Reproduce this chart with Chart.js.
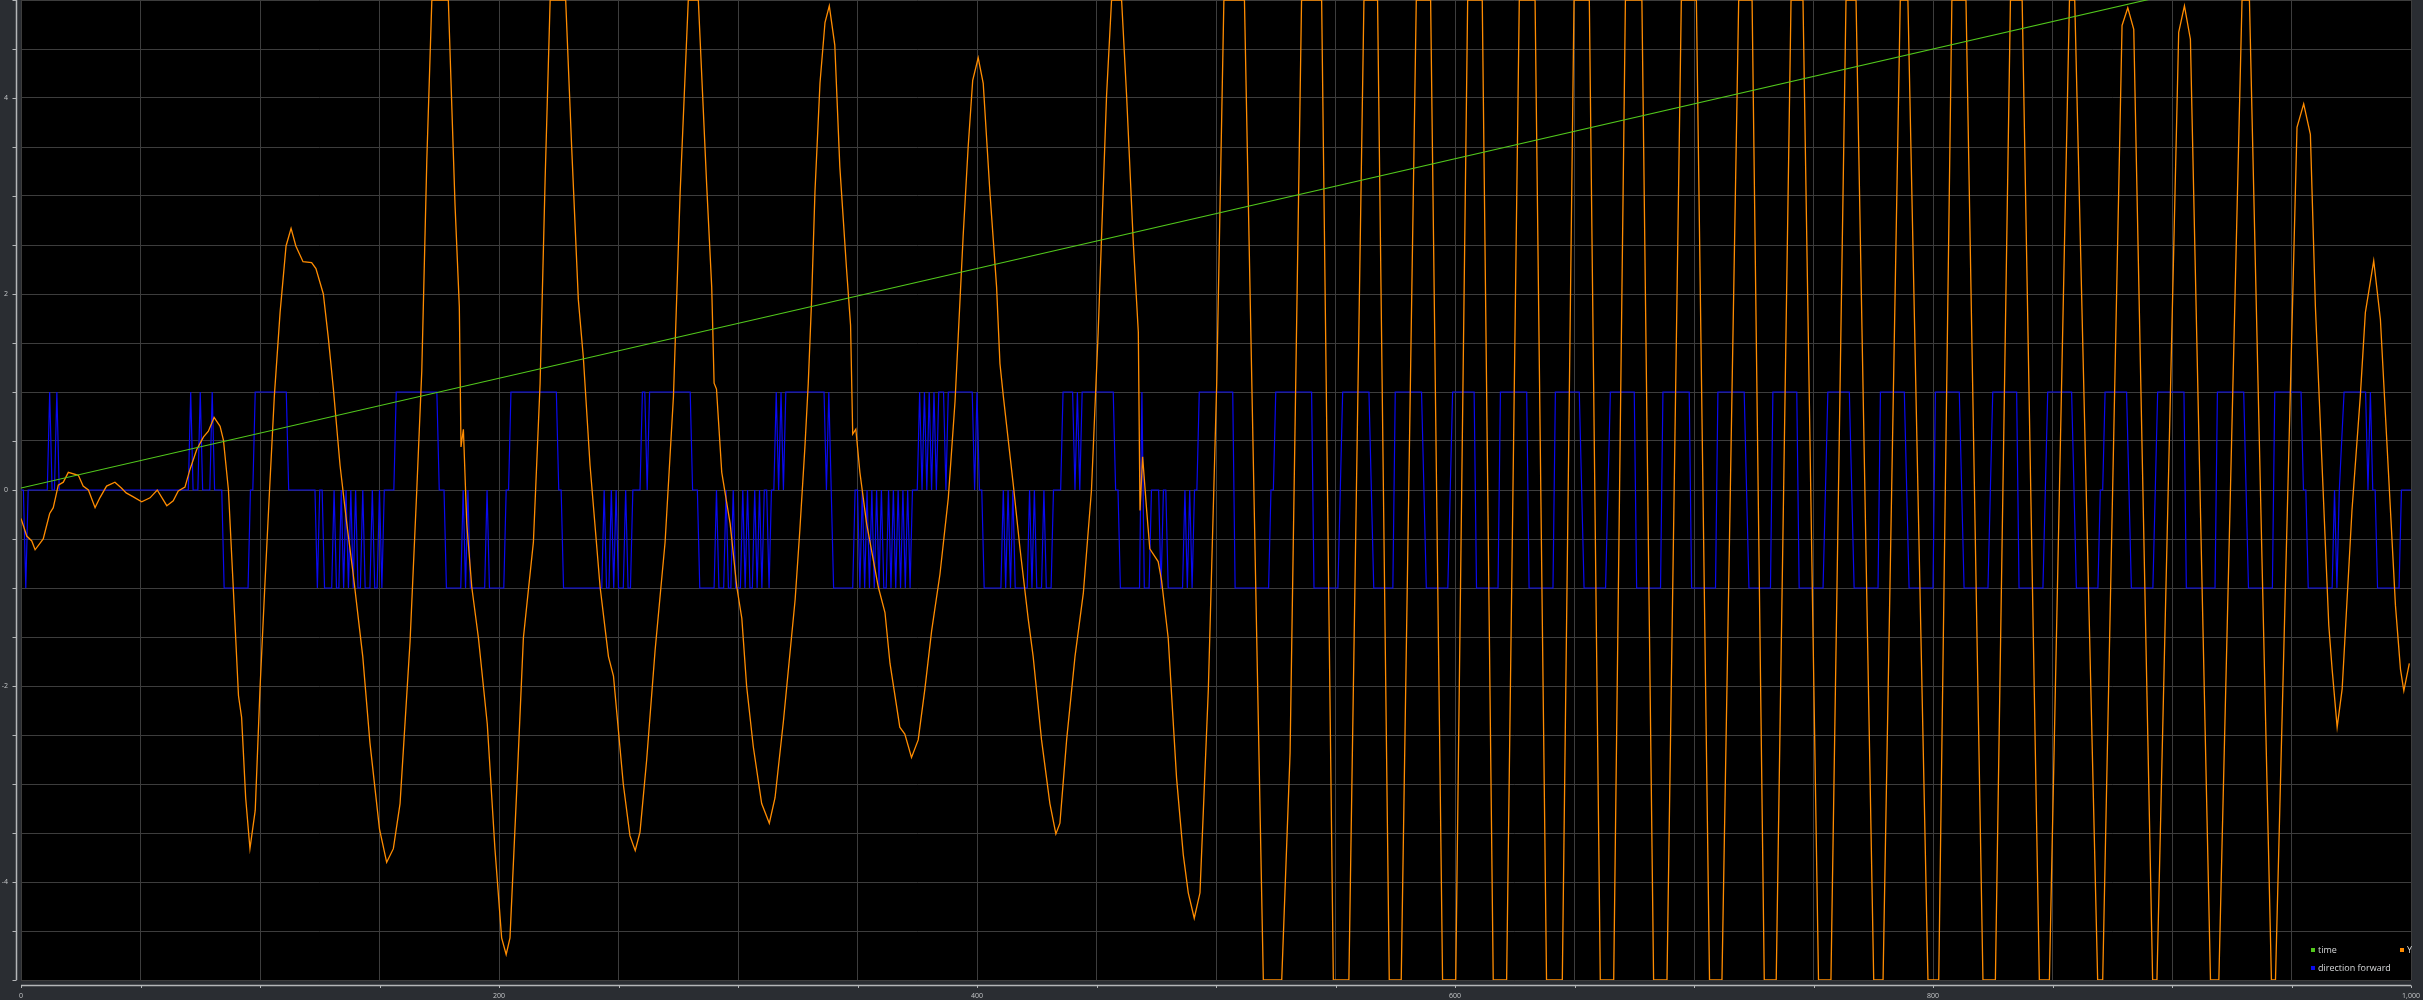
<!DOCTYPE html>
<html><head><meta charset="utf-8">
<style>
html,body{margin:0;padding:0;background:#2a2d32;overflow:hidden}
canvas{display:block}
</style>
<script src="https://cdn.jsdelivr.net/npm/chart.js@4/dist/chart.umd.min.js"></script>
</head><body>
<canvas id="c" width="2423" height="1000"></canvas>
<script>
// ---- data ----
const seriesLabels = ['time', 'Y', 'direction forward'];
const seriesColors = ['#52c81c', '#ff8c00', '#0a0af0'];
const xTickLabels = [0, 200, 400, 600, 800, 1000];
const yTickLabels = [-4, -2, 0, 2, 4];

const timePoints = [[0, 0.02], [1000, 5.62]];

const yPoints = [
[0,-0.29],[2.4,-0.47],[4.5,-0.52],[5.9,-0.61],[9.3,-0.5],[12,-0.24],[13.5,-0.18],[15.6,0.05],[17.7,0.08],[19.8,0.18],
[24,0.15],[26,0.04],[28.2,0.0],[31,-0.18],[33,-0.08],[35.8,0.04],[39.3,0.08],[42,0.02],[44,-0.03],[47,-0.07],
[50.5,-0.12],[54,-0.08],[57,0.0],[61,-0.16],[63.7,-0.11],[65.8,-0.01],[68.6,0.03],[70.7,0.21],[73.5,0.41],[76.3,0.54],
[78.4,0.6],[80.8,0.74],[83.3,0.65],[84.7,0.51],[86.8,0.0],[88.8,-0.99],[91,-2.1],[92.3,-2.32],[94,-3.14],[95.8,-3.66],
[98,-3.27],[100,-2.03],[102,-0.99],[104,0],[106,0.96],[108.4,1.81],[110.9,2.49],[113,2.67],[115,2.49],[118,2.33],
[121.6,2.32],[123.4,2.26],[126.5,2.0],[128.6,1.55],[130.7,1.03],[133.5,0.25],[136.3,-0.34],[139,-0.86],[143,-1.7],[146,-2.58],
[150,-3.46],[153,-3.8],[155.8,-3.66],[158.6,-3.2],[162.8,-1.54],[165.6,0],[167.7,1.22],[169.8,3.37],[171.9,5],[178.8,5],
[181.6,2.91],[183.4,1.87],[184.1,0.44],[185.1,0.62],[186.5,-0.34],[188.6,-0.99],[191.4,-1.51],[195.1,-2.39],[198.3,-3.66],[201.1,-4.57],
[203,-4.74],[204.6,-4.57],[207.4,-3.07],[210.2,-1.51],[214.4,-0.53],[217.2,1.09],[219.3,3.17],[221.4,5],[227.9,5],[230.4,3.5],
[233.2,1.94],[235.3,1.35],[238.1,0.25],[242.3,-0.99],[245.8,-1.7],[247.9,-1.9],[252,-3.0],[254.8,-3.53],[257,-3.68],[259,-3.49],
[261.8,-2.75],[265.3,-1.64],[269.5,-0.53],[273,0.96],[275.8,3.04],[279.2,5],[283.4,5],[286.9,3.11],[289,2.07],[290,1.09],
[291,1.03],[293.2,0.18],[296.7,-0.34],[299.5,-0.99],[301.6,-1.31],[303.6,-2.0],[306.4,-2.62],[309.9,-3.2],[313.1,-3.4],[315.5,-3.14],
[319,-2.36],[323.9,-1.12],[325.9,-0.4],[328,0.44],[329.4,1.09],[330.8,1.94],[332.2,3.04],[334.3,4.15],[336.4,4.77],[338.2,4.94],
[340.5,4.54],[342.6,3.3],[345.4,2.26],[347.1,1.68],[348,0.57],[349.3,0.62],[351,0.18],[353.8,-0.34],[358.7,-0.99],[361.5,-1.25],
[363.6,-1.77],[367.7,-2.42],[369.8,-2.49],[372.6,-2.73],[375.4,-2.55],[378.2,-2.03],[381,-1.44],[384.5,-0.86],[388,-0.08],[390.8,0.9],
[394.2,2.59],[396.3,3.5],[398.2,4.18],[400.5,4.41],[402.6,4.15],[405.4,3.04],[408.2,2.07],[409.6,1.29],[411,0.96],[415.2,0.05],
[418,-0.6],[421.4,-1.31],[423.5,-1.7],[427,-2.55],[430.5,-3.2],[433,-3.51],[434.7,-3.4],[437.5,-2.55],[441,-1.7],[444.5,-1.05],
[447.9,0],[450.7,1.61],[454.2,4.02],[456.3,5],[460.5,5],[462.6,4.02],[465.4,2.52],[467.5,1.61],[468.2,-0.21],[469.3,0.34],
[471,-0.21],[472.3,-0.6],[475.8,-0.73],[477.2,-0.92],[480,-1.51],[483.5,-2.94],[486.3,-3.72],[488.4,-4.11],[490.9,-4.37],[493.3,-4.11],
[496.8,-2.03],[500.3,1.09],[503.3,5],[511.9,5],[519.8,-5],[527.5,-5],[531,-2.68],[535.8,5],[544.2,5],[549.1,-5],
[555.6,-5],[561.9,5],[567.6,5],[572.5,-5],[577.5,-5],[583.8,5],[589.8,5],[594.8,-5],[600.3,-5],[605.3,5],
[611.4,5],[616,-5],[621.6,-5],[626.9,5],[633.5,5],[638.3,-5],[644.9,-5],[649.8,5],[656.2,5],[660.8,-5],
[666.4,-5],[671.3,5],[678.2,5],[683.1,-5],[688.7,-5],[694.7,5],[701,5],[706.5,-5],[711.7,-5],[718.7,5],
[724.3,5],[729.4,-5],[734.4,-5],[740.6,5],[745.6,5],[752.1,-5],[757.3,-5],[763.6,5],[767.8,5],[775.2,-5],
[779.1,-5],[786.3,5],[789.5,5],[797.9,-5],[802.4,-5],[807.9,5],[813.8,5],[820.9,-5],[826.1,-5],[832.4,5],
[837.3,5],[844.5,-5],[848.7,-5],[857.1,5],[859.3,5],[868.9,-5],[871,-5],[879.1,4.74],[881.5,4.92],[884,4.7],
[891.9,-5],[893.7,-5],[902.8,4.67],[905.2,4.94],[907.7,4.6],[916.1,-5],[919.6,-5],[929.3,5],[932.4,5],[941.6,-5],
[943.3,-5],[952.3,3.7],[955.1,3.94],[957.9,3.63],[960,1.87],[965.6,-1.38],[967,-1.83],[969.1,-2.42],[971.2,-2.03],[975.3,-0.21],
[978.8,0.96],[980.9,1.81],[984.4,2.34],[987.2,1.74],[990.7,0.12],[993.5,-1.18],[995.6,-1.83],[997,-2.05],[999.3,-1.77]
];

const dirPoints = [
[0,0],[1,0],[2,-1],[3,0],[11,0],[12,1],[13,0],[14,0],[15,1],[16,0],[70,0],[71,1],[72,0],[74,0],[75,1],[76,0],[79,0],[80,1],[81,0],[84,0],
[85,-1],[95,-1],[96,0],[97,0],[98,1],[111,1],[112,0],[123,0],[124,-1],[125,0],[126,0],[127,-1],[130,-1],[131,0],[132,-1],[133,-1],[134,0],[135,-1],[136,0],[137,-1],
[138,0],[139,-1],[140,0],[141,-1],[142,-1],[143,0],[144,-1],[146,-1],[147,0],[148,-1],[149,-1],[150,0],[151,-1],[152,0],[156,0],[157,1],[174,1],[175,0],[177,0],[178,-1],
[184,-1],[185,0],[186,-1],[187,0],[188,-1],[194,-1],[195,0],[196,-1],[202,-1],[203,0],[204,0],[205,1],[224,1],[225,0],[226,0],[227,-1],[243,-1],[244,0],[245,-1],[246,-1],
[247,0],[248,-1],[249,0],[250,-1],[252,-1],[253,0],[254,-1],[255,-1],[256,0],[259,0],[260,1],[261,1],[262,0],[263,1],[280,1],[281,0],[283,0],[284,-1],[290,-1],[291,0],
[292,-1],[294,-1],[295,0],[296,-1],[297,-1],[298,0],[299,-1],[301,-1],[302,0],[303,-1],[304,0],[305,-1],[306,-1],[307,0],[308,-1],[309,0],[310,-1],[311,0],[312,0],[313,-1],
[314,0],[315,0],[316,1],[317,0],[318,1],[319,0],[320,1],[336,1],[337,0],[338,1],[339,0],[340,-1],[348,-1],[349,0],[350,0],[351,-1],[352,0],[353,-1],[354,0],[355,-1],
[356,0],[357,-1],[358,0],[359,-1],[360,0],[361,-1],[362,-1],[363,0],[364,-1],[365,0],[366,-1],[367,0],[368,-1],[369,0],[370,-1],[371,0],[372,-1],[373,0],[375,0],[376,1],
[377,0],[378,1],[379,0],[380,1],[381,0],[382,1],[383,0],[384,1],[386,1],[387,0],[388,1],[398,1],[399,0],[400,1],[401,0],[402,0],[403,-1],[410,-1],[411,0],[412,-1],
[413,0],[414,-1],[415,0],[416,-1],[421,-1],[422,0],[423,-1],[424,0],[425,-1],[427,-1],[428,0],[429,-1],[431,-1],[432,0],[435,0],[436,1],[440,1],[441,0],[442,1],[443,0],
[444,1],[457,1],[458,0],[459,0],[460,-1],[468,-1],[469,1],[470,-1],[472,-1],[473,0],[476,0],[477,-1],[478,0],[479,0],[480,-1],[486,-1],[487,0],[488,-1],[489,0],[490,-1],
[491,0],[492,0],[493,1],[507,1],[508,-1],[522,-1],[523,0],[524,0],[525,1],[540,1],[541,-1],[551,-1],[553,1],[564,1],[566,-1],[574,-1],[575,1],[586,1],[588,-1],[597,-1],
[599,1],[608,1],[609,-1],[618,-1],[619,1],[630,1],[631,-1],[641,-1],[642,1],[652,1],[654,-1],[663,-1],[665,1],[675,1],[676,-1],[686,-1],[687,1],[698,1],[699,-1],[709,-1],
[710,1],[721,1],[723,-1],[732,-1],[733,1],[743,1],[744,-1],[754,-1],[756,1],[765,1],[767,-1],[777,-1],[778,1],[788,1],[790,-1],[800,-1],[801,1],[811,1],[813,-1],[823,-1],
[825,1],[835,1],[836,-1],[846,-1],[848,1],[858,1],[860,-1],[869,-1],[870,0],[871,0],[872,1],[881,1],[883,-1],[892,-1],[894,1],[905,1],[906,-1],[918,-1],[919,1],[930,1],
[932,-1],[942,-1],[943,1],[954,1],[955,0],[956,0],[957,-1],[967,-1],[968,0],[969,-1],[970,0],[972,1],[981,1],[982,0],[983,1],[984,0],[985,0],[986,-1],[995,-1],[996,0],
[1000,0]
];

// ---- chart ----
const toXY = arr => arr.map(p => ({x: p[0], y: p[1]}));
const seriesData = [timePoints, yPoints, dirPoints];
const widths = [1.1, 1.3, 1.2];

const TICK_COLOR = '#c4c6c8';
const GRID_COLOR = '#3d3d3d';
const FONT = '"Open Sans", "Noto Sans", sans-serif';

const decor = {
  id: 'decor',
  beforeDraw(chart) {
    const {ctx, chartArea: a} = chart;
    ctx.save();
    ctx.fillStyle = '#000000';
    ctx.fillRect(a.left, a.top, a.right - a.left, a.bottom - a.top);
    ctx.restore();
  },
  afterDraw(chart) {
    const {ctx, chartArea: a} = chart;
    const xs = chart.scales.x, ys = chart.scales.y;
    ctx.save();
    ctx.strokeStyle = '#b4b6b8';
    ctx.lineWidth = 1.5;
    ctx.beginPath();
    const ax = a.left - 4.5;
    ctx.moveTo(ax, a.top); ctx.lineTo(ax, a.bottom);
    const ay = a.bottom + 5.5;
    ctx.moveTo(a.left, ay); ctx.lineTo(a.right, ay);
    ctx.stroke();
    ctx.lineWidth = 1;
    ctx.beginPath();
    ys.ticks.forEach(t => {
      const y = Math.round(ys.getPixelForValue(t.value)) + 0.5;
      ctx.moveTo(ax - 4, y); ctx.lineTo(ax, y);
    });
    xs.ticks.forEach(t => {
      const x = Math.round(xs.getPixelForValue(t.value)) + 0.5;
      ctx.moveTo(x, ay); ctx.lineTo(x, ay + 2.5);
    });
    ctx.stroke();
    // legend: 2-column grid, bottom-right inside the plot
    const ds = chart.data.datasets;
    const colX = [a.right - 100, a.right - 11];
    const rowY = [a.bottom - 30, a.bottom - 12];
    ctx.font = '9px ' + FONT;
    ctx.textBaseline = 'middle';
    ctx.textAlign = 'left';
    ds.forEach((d, i) => {
      const cx = colX[i % 2], cy = rowY[Math.floor(i / 2)];
      ctx.fillStyle = d.borderColor;
      ctx.fillRect(cx, cy - 2, 4, 4);
      ctx.fillStyle = '#d6d8da';
      ctx.fillText(d.label, cx + 7, cy);
    });
    ctx.restore();
  }
};

new Chart(document.getElementById('c'), {
  type: 'line',
  data: {
    datasets: seriesLabels.map((lab, i) => ({
      label: lab,
      data: toXY(seriesData[i]),
      borderColor: seriesColors[i],
      backgroundColor: seriesColors[i],
      borderWidth: widths[i],
      pointRadius: 0,
      tension: 0,
      fill: false
    }))
  },
  options: {
    responsive: false,
    animation: false,
    devicePixelRatio: 1,
    layout: {padding: {left: 0, right: 12, top: 0, bottom: 0}},
    plugins: {legend: {display: false}, tooltip: {enabled: false}},
    events: [],
    scales: {
      x: {
        type: 'linear', min: 0, max: 1000,
        border: {display: false},
        grid: {color: GRID_COLOR, lineWidth: 1, drawTicks: false},
        ticks: {
          stepSize: 50, autoSkip: false, maxRotation: 0, padding: 12,
          color: TICK_COLOR, font: {size: 7, family: FONT},
          callback: v => xTickLabels.includes(v) ? v.toLocaleString('en-US') : ''
        },
        afterFit: s => { s.height = 20; s.paddingLeft = 0; s.paddingRight = 0; }
      },
      y: {
        type: 'linear', min: -5, max: 5,
        border: {display: false},
        grid: {color: GRID_COLOR, lineWidth: 1, drawTicks: false},
        ticks: {
          stepSize: 0.5, autoSkip: false, padding: 13,
          color: TICK_COLOR, font: {size: 7, family: FONT},
          callback: v => yTickLabels.includes(v) ? String(v) : ''
        },
        afterFit: s => { s.width = 21; s.paddingTop = 0; s.paddingBottom = 0; }
      }
    }
  },
  plugins: [decor]
});
</script>
</body></html>
